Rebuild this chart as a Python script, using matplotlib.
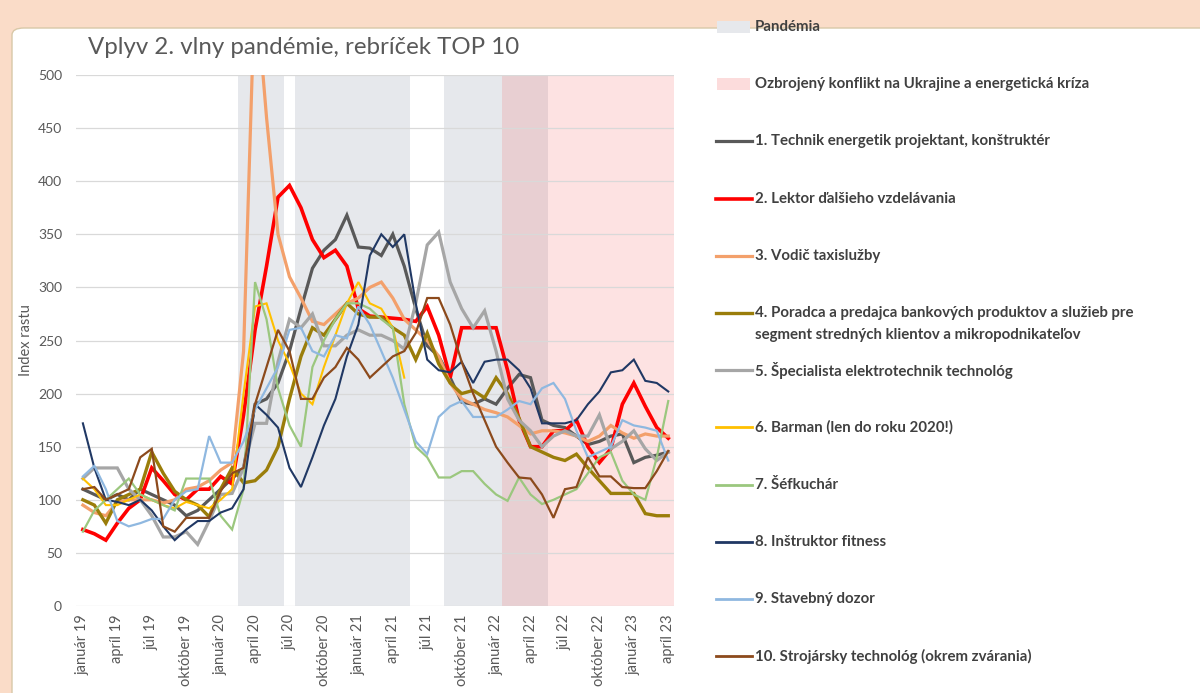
import numpy as np
import matplotlib
matplotlib.use("Agg")
import matplotlib.pyplot as plt
from matplotlib.patches import Rectangle, FancyBboxPatch
from matplotlib.lines import Line2D

plt.rcParams['font.family'] = ['Lato', 'DejaVu Sans']

# ---------------- data ----------------
month_names = ["január", "február", "marec", "apríl", "máj", "jún", "júl", "august",
               "september", "október", "november", "december"]
years = [19, 20, 21, 22, 23]
months = [f"{m} {y}" for y in years for m in month_names][:52]   # január 19 .. apríl 23

# 1 = month belongs to the period
pandemic = [0]*14 + [1]*4 + [0] + [1]*10 + [0]*3 + [1]*9 + [0]*11
conflict = [0]*37 + [1]*15

s1_technik = [110, 105, 100, 105, 100, 110, 105, 100, 95, 85, 90, 100, 110, 120, 130, 190, 195, 210,
              240, 280, 318, 335, 345, 368, 338, 337, 330, 350, 320, 280, 245, 235, 215, 192, 190, 195,
              190, 205, 218, 215, 175, 170, 168, 160, 152, 155, 160, 162, 135, 140, 142, 145]
s2_lektor = [72, 68, 62, 78, 92, 100, 130, 118, 105, 100, 110, 110, 122, 115, 180, 260, 320, 385,
             396, 375, 345, 328, 335, 320, 280, 273, 272, 271, 270, 268, 282, 255, 215, 262, 262, 262,
             262, 222, 175, 150, 150, 165, 165, 175, 150, 135, 148, 190, 210, 188, 168, 158]
s3_vodic = [95, 88, 85, 98, 100, 100, 100, 97, 100, 110, 112, 118, 128, 135, 240, 590, 460, 350,
            310, 290, 268, 265, 275, 285, 290, 300, 305, 290, 270, 260, 250, 235, 210, 195, 190, 185,
            182, 178, 170, 162, 165, 165, 163, 160, 155, 160, 170, 163, 158, 162, 160, 160]
s4_poradca = [100, 95, 78, 100, 105, 110, 145, 125, 108, 100, 95, 84, 110, 130, 116, 118, 128, 150,
              195, 235, 262, 255, 270, 285, 275, 272, 272, 262, 255, 232, 257, 228, 210, 200, 203, 196,
              215, 200, 177, 150, 145, 140, 137, 143, 130, 118, 106, 106, 106, 87, 85, 85]
s5_specialista = [120, 130, 130, 130, 110, 100, 85, 65, 65, 70, 58, 80, 105, 106, 130, 172, 172, 230,
                  270, 262, 275, 245, 245, 255, 260, 255, 255, 250, 242, 285, 340, 352, 305, 280, 262, 278,
                  240, 195, 175, 165, 150, 160, 165, 160, 160, 180, 148, 155, 165, 148, 137, 145]
s6_barman = [120, 110, 95, 95, 100, 105, 100, 95, 92, 98, 95, 92, 100, 110, 200, 282, 285, 250,
             228, 200, 190, 225, 255, 285, 305, 285, 280, 262, 215] + [np.nan]*23
s7_sefkuchar = [70, 90, 100, 110, 120, 105, 100, 95, 90, 120, 120, 120, 85, 72, 110, 305, 270, 205,
                170, 150, 225, 250, 270, 285, 285, 280, 270, 262, 190, 150, 140, 121, 121, 127, 127, 115,
                105, 99, 121, 105, 96, 100, 105, 110, 125, 140, 145, 118, 105, 100, 140, 193]
s8_fitness = [172, 130, 100, 98, 95, 100, 90, 75, 62, 72, 80, 80, 88, 92, 110, 190, 180, 168,
              130, 112, 140, 170, 195, 235, 265, 330, 350, 338, 350, 285, 232, 222, 220, 230, 210, 230,
              232, 232, 222, 205, 172, 172, 172, 175, 190, 202, 220, 222, 232, 212, 210, 202]
s9_dozor = [122, 132, 110, 80, 75, 78, 82, 82, 100, 108, 110, 160, 135, 135, 155, 185, 205, 225,
            260, 262, 240, 235, 255, 252, 282, 265, 240, 215, 185, 155, 143, 178, 188, 193, 178, 178,
            178, 185, 193, 190, 205, 210, 195, 165, 140, 145, 150, 175, 170, 168, 165, 137]
s10_strojarsky = [110, 112, 100, 105, 110, 140, 148, 75, 70, 83, 83, 83, 108, 125, 130, 190, 225, 260,
                  240, 195, 195, 215, 225, 243, 232, 215, 225, 235, 240, 257, 290, 290, 265, 230, 200, 175,
                  150, 135, 121, 120, 105, 83, 110, 112, 140, 122, 122, 112, 111, 111, 127, 146]

series_labels = ["1. Technik energetik projektant, konštruktér",
                 "2. Lektor ďalšieho vzdelávania",
                 "3. Vodič taxislužby",
                 "4. Poradca a predajca bankových produktov a služieb pre\nsegment stredných klientov a mikropodnikateľov",
                 "5. Špecialista elektrotechnik technológ",
                 "6. Barman (len do roku 2020!)",
                 "7. Šéfkuchár",
                 "8. Inštruktor fitness",
                 "9. Stavebný dozor",
                 "10. Strojársky technológ (okrem zvárania)"]
series_values = [s1_technik, s2_lektor, s3_vodic, s4_poradca, s5_specialista,
                 s6_barman, s7_sefkuchar, s8_fitness, s9_dozor, s10_strojarsky]
series_colors = ["#595959", "#FF0000", "#F3A06B", "#9A7D0A", "#A6A6A6",
                 "#FFC000", "#9BC77E", "#203864", "#8FB8E0", "#8C4A1C"]
series_widths = [2.3, 2.6, 2.3, 2.4, 2.3, 1.5, 1.6, 1.5, 1.6, 1.6]

period_labels = ["Pandémia", "Ozbrojený konflikt na Ukrajine a energetická kríza"]

# ---------------- figure ----------------
W, H = 1200, 693
fig = plt.figure(figsize=(W/100, H/100), dpi=100, facecolor="#FADCC8")
panel = FancyBboxPatch((12/W, -0.01), 1 - 12/W + 0.01, 1 - 28/H + 0.01,
                       boxstyle="round,pad=0,rounding_size=0.01",
                       transform=fig.transFigure, facecolor="white", edgecolor="#D8C8A8",
                       linewidth=1.0, zorder=-10)
fig.patches.append(panel)

ax = fig.add_axes([76/W, 1 - 606/H, (674-76)/W, (606-75)/H], zorder=1)
ax.set_facecolor("none")
x = np.arange(len(months))

ax.bar(x, np.array(pandemic) * 500, width=1.0, color="#E6E8EC", linewidth=0,
       antialiased=False, zorder=0.2)
ax.bar(x, np.array(conflict) * 500, width=1.0, color="#F56E6E", alpha=0.2, linewidth=0,
       antialiased=False, zorder=0.3)

for vals, col, lw in zip(series_values, series_colors, series_widths):
    ax.plot(x, vals, color=col, lw=lw, solid_joinstyle="miter", zorder=2)

ax.set_ylim(0, 500)
ax.set_xlim(-0.6, 51.5)
ax.set_yticks(np.arange(0, 501, 50))
ax.yaxis.grid(True, color="#D9D9D9", lw=0.9)
for gl in ax.get_ygridlines():
    gl.set_zorder(0.5)

ax.set_xticks(x[::3])
ax.set_xticklabels(months[::3], rotation=90, fontsize=10.5, color="#595959")
ax.tick_params(axis="x", length=0, labelsize=10.5, labelcolor="#595959", pad=6)
ax.tick_params(axis="y", length=0, labelsize=10, labelcolor="#595959", pad=10)
for s in ax.spines.values():
    s.set_visible(False)
ax.set_ylabel("Index rastu", fontsize=10.5, color="#595959")
ax.yaxis.set_label_coords((33 - 76) / 598, 0.5)

fig.text(88/W, 1 - 47/H, "Vplyv 2. vlny pandémie, rebríček TOP 10", fontsize=17.3,
         color="#595959", va="center", ha="left")

# ---------------- legend (manual, Excel-like) ----------------
row0, step = 27, 57.2
hx0, hx1, tx = 716, 752, 755
lfs = 10.8
def fy(py):
    return 1 - py / H

rows = 0
for lab, col in zip(period_labels, ["#E6E8EC", "#FCDCDC"]):
    py = row0 + step * rows
    fig.patches.append(Rectangle((717/W, fy(py + 6)), 33/W, 12/H, transform=fig.transFigure,
                                 facecolor=col, edgecolor="none"))
    fig.text(tx/W, fy(py), lab, fontsize=lfs, fontweight="bold", color="#404040",
             va="center", ha="left")
    rows += 1

for lab, col, lw in zip(series_labels, series_colors, series_widths):
    py = row0 + step * rows
    fig.lines.append(Line2D([hx0/W, hx1/W], [fy(py), fy(py)], transform=fig.transFigure,
                            color=col, lw=max(lw, 2.0)))
    first, *rest = lab.split("\n")
    fig.text(tx/W, fy(py), first, fontsize=lfs, fontweight="bold", color="#404040",
             va="center", ha="left")
    for k, line in enumerate(rest, 1):
        fig.text(tx/W, fy(py + 22*k), line, fontsize=lfs, fontweight="bold", color="#404040",
                 va="center", ha="left")
    rows += 1

fig.savefig("out.png", dpi=100, facecolor=fig.get_facecolor())
